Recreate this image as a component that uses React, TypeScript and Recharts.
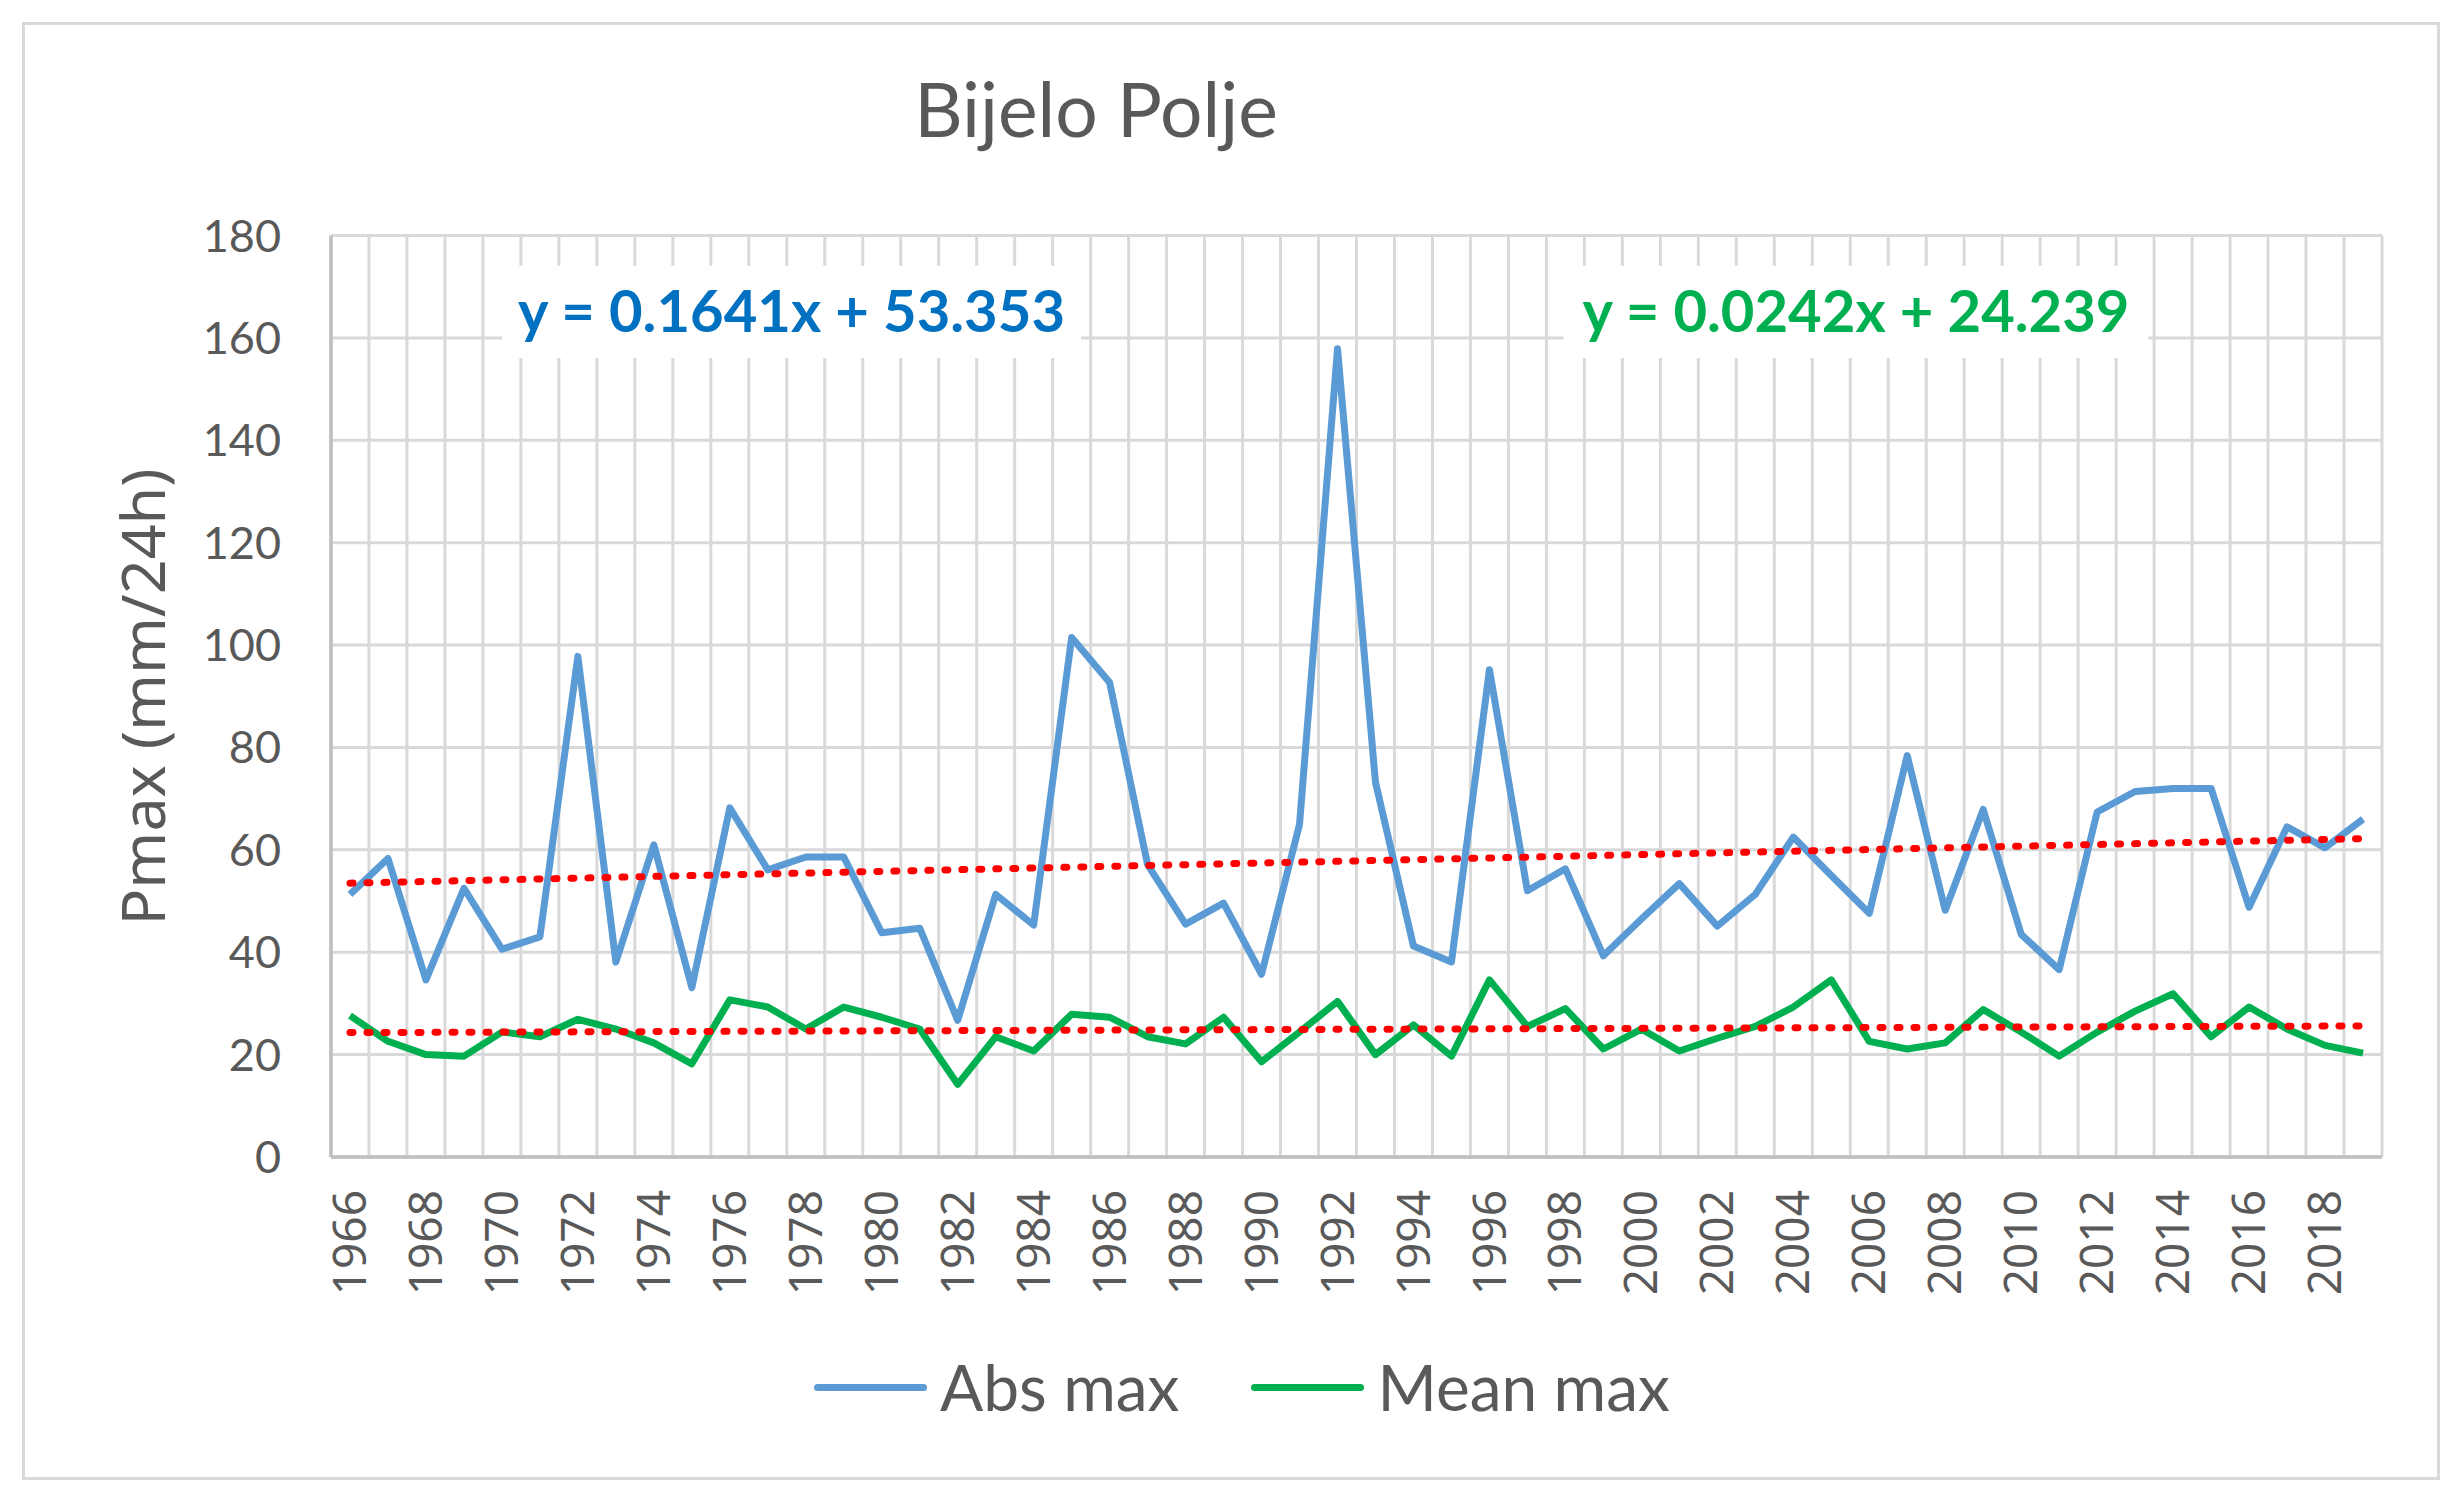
import React from 'react';
import {
  LineChart,
  Line,
  XAxis,
  YAxis,
  CartesianGrid,
  ReferenceLine,
  ReferenceArea,
  Legend,
} from 'recharts';

// ---- data ----
const years = [
  1966, 1967, 1968, 1969, 1970, 1971, 1972, 1973, 1974, 1975, 1976, 1977, 1978, 1979,
  1980, 1981, 1982, 1983, 1984, 1985, 1986, 1987, 1988, 1989, 1990, 1991, 1992,
  1993, 1994, 1995, 1996, 1997, 1998, 1999, 2000, 2001, 2002, 2003, 2004, 2005,
  2006, 2007, 2008, 2009, 2010, 2011, 2012, 2013, 2014, 2015, 2016, 2017, 2018, 2019,
];

const absMax = [
  51.3, 58.3, 34.6, 52.5, 40.6, 43.0, 97.8, 38.1, 61.0, 33.1, 68.2, 56.1, 58.6, 58.6,
  43.8, 44.7, 26.7, 51.3, 45.3, 101.5, 92.7, 57.1, 45.5, 49.6, 35.7, 65.0, 157.9,
  73.2, 41.2, 38.1, 95.2, 52.0, 56.3, 39.3, 46.5, 53.4, 45.1, 51.3, 62.5, 55.0,
  47.6, 78.4, 48.2, 67.9, 43.5, 36.6, 67.4, 71.4, 72.0, 72.0, 48.8, 64.5, 60.4, 66.0,
];

const meanMax = [
  27.6, 22.6, 20.0, 19.7, 24.4, 23.5, 26.9, 25.0, 22.3, 18.2, 30.7, 29.3, 25.0, 29.3,
  27.3, 25.0, 14.2, 23.5, 20.7, 27.9, 27.3, 23.5, 22.1, 27.3, 18.6, 24.4, 30.4,
  20.0, 25.8, 19.7, 34.6, 25.5, 29.0, 21.1, 25.0, 20.7, 23.2, 25.5, 29.3, 34.6,
  22.6, 21.1, 22.3, 28.8, 24.4, 19.7, 24.4, 28.5, 31.9, 23.5, 29.3, 25.0, 21.8, 20.3,
];

// trendline end values (first year, last year)
const absTrend = [53.5, 62.2];
const meanTrend = [24.3, 25.6];

const yTicks = [0, 20, 40, 60, 80, 100, 120, 140, 160, 180];
const xLabelYears = [
  1966, 1968, 1970, 1972, 1974, 1976, 1978, 1980, 1982, 1984, 1986, 1988, 1990, 1992,
  1994, 1996, 1998, 2000, 2002, 2004, 2006, 2008, 2010, 2012, 2014, 2016, 2018,
];

const absEquation = 'y = 0.1641x + 53.353';
const meanEquation = 'y = 0.0242x + 24.239';

// ---- styling ----
const BLUE = '#5B9BD5';
const GREEN = '#00B050';
const RED = '#FF0000';
const EQ_BLUE = '#0070C0';
const TEXT = '#595959';
const GRID = '#d9d9d9';
const AXIS = '#bfbfbf';

const data = years.map((y, i) => ({ year: y, abs: absMax[i], mean: meanMax[i] }));
const firstYear = years[0];
const lastYear = years[years.length - 1];
const domain: [number, number] = [firstYear - 0.5, lastYear + 0.5];
const boundaries = [...years.map((y) => y - 0.5), lastYear + 0.5];

const XTick = (props: any) => {
  const { x, y, payload } = props;
  const ty = y + 33;
  return (
    <text
      x={x}
      y={ty}
      transform={`rotate(-90, ${x}, ${ty})`}
      textAnchor="end"
      dy="0.35em"
      fontFamily="Noto Sans"
      fontSize={46}
      fill={TEXT}
    >
      {payload.value}
    </text>
  );
};

const makeEqLabel = (text: string, color: string) => (props: any) => {
  const vb = props.viewBox || {};
  return (
    <text
      x={vb.x + vb.width / 2}
      y={vb.y + vb.height / 2}
      dy="0.35em"
      textAnchor="middle"
      fontFamily="Lato"
      fontWeight={700}
      fontSize={58}
      fill={color}
    >
      {text}
    </text>
  );
};

const renderLegend = (props: any) => {
  const payload = props.payload || [];
  return (
    <div
      style={{
        display: 'flex',
        alignItems: 'center',
        fontFamily: 'Lato',
        fontSize: 64,
        color: TEXT,
        lineHeight: '76px',
        whiteSpace: 'nowrap',
      }}
    >
      {payload.map((p: any, i: number) => (
        <React.Fragment key={p.value}>
          <span
            style={{
              display: 'inline-block',
              width: 113,
              height: 7,
              borderRadius: 3.5,
              background: p.color,
              marginLeft: i === 0 ? 0 : 72,
            }}
          />
          <span style={{ marginLeft: 13 }}>{p.value}</span>
        </React.Fragment>
      ))}
    </div>
  );
};

export default function App() {
  return (
    <div style={{ position: 'absolute', left: 0, top: 0, width: 2463, height: 1505, background: '#fff' }}>
      <svg
        width={2463}
        height={1505}
        style={{ position: 'absolute', left: 0, top: 0 }}
      >
        <rect x={23.5} y={23.5} width={2415} height={1455} fill="#fff" stroke={GRID} strokeWidth={3} />
        <text x={1096} y={137} textAnchor="middle" fontFamily="Lato" fontSize={75} fill={TEXT}>
          Bijelo Polje
        </text>
        <text
          x={165}
          y={697}
          transform="rotate(-90, 165, 697)"
          textAnchor="middle"
          fontFamily="Noto Sans"
          fontSize={61}
          fill={TEXT}
        >
          Pmax (mm/24h)
        </text>
      </svg>
      <div style={{ position: 'absolute', left: 0, top: 0 }}>
        <LineChart
          width={2463}
          height={1505}
          data={data}
          margin={{ top: 235.6, right: 81, bottom: 198, left: 131 }}
        >
          <CartesianGrid stroke={GRID} strokeWidth={3} verticalValues={boundaries} horizontalValues={yTicks} />
          <XAxis
            dataKey="year"
            type="number"
            domain={domain}
            ticks={xLabelYears}
            interval={0}
            allowDataOverflow
            height={150}
            tickSize={0}
            tickMargin={0}
            tickLine={false}
            axisLine={{ stroke: AXIS, strokeWidth: 3.5 }}
            tick={<XTick />}
          />
          <YAxis
            type="number"
            domain={[0, 180]}
            ticks={yTicks}
            interval={0}
            width={200}
            tickSize={0}
            tickMargin={50}
            tickLine={false}
            axisLine={{ stroke: AXIS, strokeWidth: 3.5 }}
            tick={{ fontFamily: 'Lato', fontSize: 45, fill: TEXT }}
          />
          <ReferenceArea
            x1={1970.0}
            x2={1985.25}
            y1={156.1}
            y2={174.1}
            fill="#fff"
            fillOpacity={1}
            stroke="none"
            label={makeEqLabel(absEquation, EQ_BLUE)}
          />
          <ReferenceArea
            x1={1997.95}
            x2={2013.35}
            y1={156.1}
            y2={174.1}
            fill="#fff"
            fillOpacity={1}
            stroke="none"
            label={makeEqLabel(meanEquation, GREEN)}
          />
          <Line
            type="linear"
            dataKey="abs"
            name="Abs max"
            stroke={BLUE}
            strokeWidth={7}
            strokeLinejoin="round"
            dot={false}
            activeDot={false}
            isAnimationActive={false}
          />
          <Line
            type="linear"
            dataKey="mean"
            name="Mean max"
            stroke={GREEN}
            strokeWidth={7}
            strokeLinejoin="round"
            dot={false}
            activeDot={false}
            isAnimationActive={false}
          />
          <ReferenceLine
            segment={[
              { x: firstYear, y: absTrend[0] },
              { x: lastYear, y: absTrend[1] },
            ]}
            stroke={RED}
            strokeWidth={7}
            strokeDasharray="3 14"
            strokeLinecap="round"
          />
          <ReferenceLine
            segment={[
              { x: firstYear, y: meanTrend[0] },
              { x: lastYear, y: meanTrend[1] },
            ]}
            stroke={RED}
            strokeWidth={7}
            strokeDasharray="3 14"
            strokeLinecap="round"
          />
          <Legend
            layout="horizontal"
            align="center"
            verticalAlign="middle"
            content={renderLegend}
            wrapperStyle={{ position: 'absolute', left: 814, top: 1349, width: 'auto', height: 76 }}
          />
        </LineChart>
      </div>
    </div>
  );
}
